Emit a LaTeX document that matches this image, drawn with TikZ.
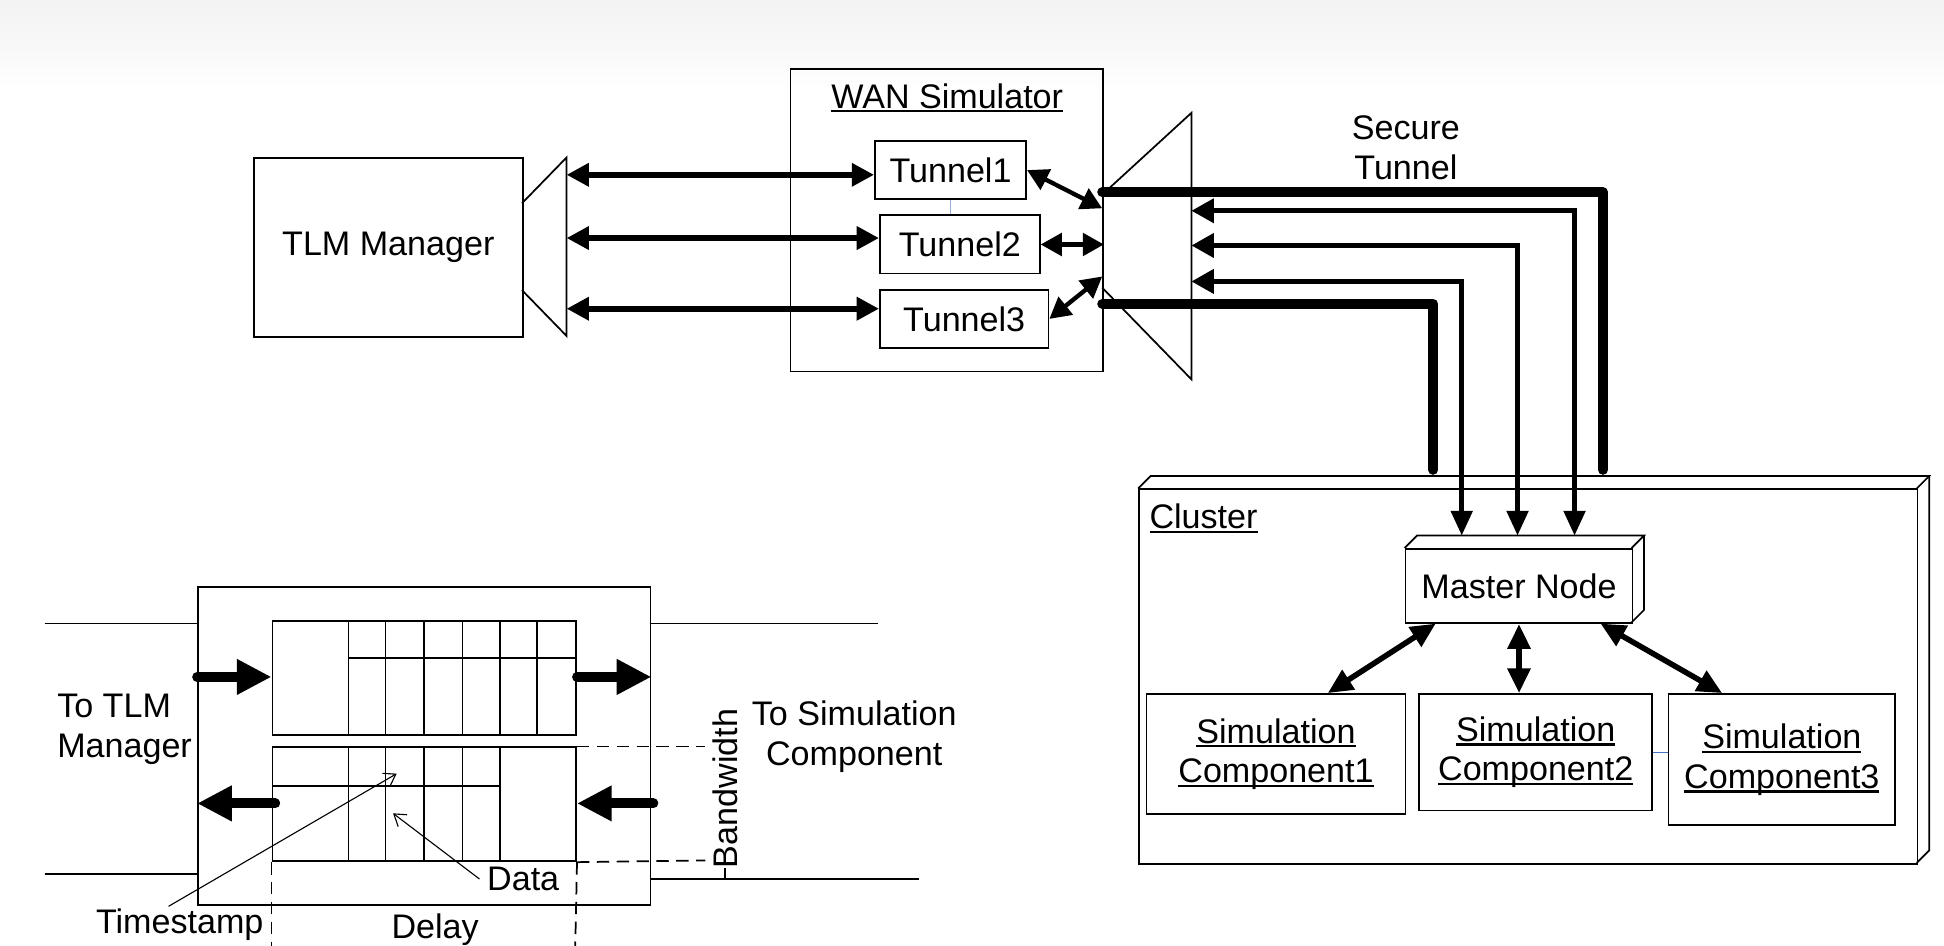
\documentclass[tikz,border=0pt]{standalone}
\usepackage{fontspec}
\setmainfont{Liberation Sans}
\usetikzlibrary{arrows.meta}
\newsavebox\myulbox
\newcommand\myul[1]{\leavevmode\sbox\myulbox{#1}\rlap{\rule[-3.5pt]{\wd\myulbox}{1.8pt}}\usebox\myulbox}
\definecolor{linkblue}{RGB}{150,175,215}
\definecolor{compblue}{RGB}{68,114,196}
\begin{document}
\begin{tikzpicture}[x=1pt,y=-1pt,
  font=\fontsize{27.5}{32}\selectfont,
  box/.style={draw, line width=1.4pt, inner sep=0pt, anchor=north west, align=center},
  txt/.style={inner sep=0pt},
  thin/.style={line width=1.4pt},
  dbl/.style={line width=4.5pt, {Triangle[length=18pt,width=18pt]}-{Triangle[length=18pt,width=18pt]}},
  sdbl/.style={line width=3.5pt, {Triangle[length=17pt,width=18pt]}-{Triangle[length=17pt,width=18pt]}},
  secure/.style={line width=8pt, line cap=round, line join=round},
  tunarrow/.style={line width=4pt, {Triangle[length=18pt,width=19pt]}-{Triangle[length=20pt,width=17pt]}},
  msarrow/.style={line width=4.5pt, {Triangle[length=20pt,width=18pt]}-{Triangle[length=20pt,width=18pt]}},
  blk/.style={line width=8pt, line cap=round, -{Triangle[length=28pt,width=27pt]}},
  ptr/.style={line width=0.9pt, -{Straight Barb[length=9pt,width=12pt]}},
  dsh/.style={line width=1.4pt, dash pattern=on 10pt off 6pt}
]
\useasboundingbox (0,0) rectangle (1568,763);
\fill[white] (0,0) rectangle (1568,763);
\shade[top color=black!5, bottom color=white] (0,0) rectangle (1568,75);

% ---------------- TLM Manager and left trapezoid
\node[box, minimum width=217pt, minimum height=144pt] (tlm) at (204,127) {TLM Manager};
\draw[thin] (421,164) -- (457,127) -- (457,271) -- (421,234);

% ---------------- WAN simulator
\node[box, minimum width=252pt, minimum height=244pt] (wan) at (637,55) {};
\node[txt] (wantitle) at (764,79) {\myul{WAN Simulator}};
\node[box, minimum width=122pt, minimum height=47pt] (tun1) at (705,113) {Tunnel1};
\node[box, minimum width=129pt, minimum height=47pt] (tun2) at (709,173) {Tunnel2};
\node[box, minimum width=136pt, minimum height=47pt] (tun3) at (709,233) {Tunnel3};
\draw[linkblue, line width=1pt] (tun1.south) -- (tun1.south |- tun2.north);

\coordinate (l1) at (457,141);
\coordinate (l2) at (457,192);
\coordinate (l3) at (457,249);
\draw[dbl] (l1) -- (l1 -| tun1.west);
\draw[dbl] (l2) -- (l2 -| tun2.west);
\draw[dbl] (l3) -- (l3 -| tun3.west);

% ---------------- right trapezoid
\draw[thin] (889,157) -- (961,91) -- (961,306) -- (889,232);
\coordinate (w1) at (889,168);
\coordinate (w3) at (889,223);
\draw[sdbl] (tun1.east) -- (w1);
\draw[sdbl] (tun2.east) -- (tun2.east -| wan.east);
\draw[sdbl] (tun3.east) -- (w3);

\node[txt, align=center] (sec) at (1134,119) {Secure\\Tunnel};

% ---------------- Cluster
\draw[thin] (918,394) -- (928,384) -- (1556,384) -- (1546,394);
\draw[thin] (1556,384) -- (1556,686) -- (1546,696);
\node[box, minimum width=628pt, minimum height=302pt] (cluster) at (918,394) {};
\node[txt, anchor=west] (clabel) at (927,418) {\myul{Cluster}};

\draw[thin] (1133,442) -- (1143,432) -- (1326,432) -- (1316,442);
\draw[thin] (1326,432) -- (1326,492) -- (1316,502);
\node[box, minimum width=183pt, minimum height=60pt] (master) at (1133,442) {Master Node};

\node[box, minimum width=209pt, minimum height=97pt] (sc1) at (924,559) {\myul{Simulation}\\\myul{Component1}};
\node[box, minimum width=188pt, minimum height=94pt] (sc2) at (1144,559) {\myul{Simulation}\\\myul{Component2}};
\node[box, minimum width=183pt, minimum height=106pt] (sc3) at (1345,559) {\myul{Simulation}\\\myul{Component3}};
\draw[compblue, line width=1pt] (sc2.east) -- (sc2.east -| sc3.west);

% secure tunnel lines
\coordinate (s1) at (889,155);
\coordinate (s1e) at (1293,379);
\coordinate (s2) at (889,245);
\coordinate (s2e) at (1156,379);
\draw[secure] (s1) -| (s1e);
\draw[secure] (s2) -| (s2e);

\coordinate (t1) at (961,170);
\coordinate (t2) at (961,198);
\coordinate (t3) at (961,227);
\coordinate (m1) at (1270,432);
\coordinate (m2) at (1224,432);
\coordinate (m3) at (1179,432);
\draw[tunarrow] (t1) -| (m1);
\draw[tunarrow] (t2) -| (m2);
\draw[tunarrow] (t3) -| (m3);

% master <-> simulation components
\coordinate (ma1) at (1158,503);
\coordinate (sa1) at (1071,559);
\coordinate (ma3) at (1291,503);
\coordinate (sa3) at (1389,559);
\draw[msarrow] (ma1) -- (sa1);
\draw[msarrow] (master.south) -- (sc2.north -| master.south);
\draw[msarrow] (ma3) -- (sa3);

% ---------------- bottom-left queue diagram
\node[box, minimum width=365pt, minimum height=256pt] (outer) at (159,473) {};
\draw[thin] (36,503) -- (159,503);
\draw[thin] (524,503) -- (708,503);
\draw[thin] (36,705) -- (159,705);
\draw[thin] (524,709) -- (741,709);

\node[box, minimum width=245pt, minimum height=92pt] (qtop) at (219,500) {};
\foreach \xx in {281,311,342,373,403,433} \draw[thin] (\xx,500) -- (\xx,592);
\draw[thin] (281,531) -- (464,531);

\node[box, minimum width=245pt, minimum height=92pt] (qbot) at (219,602) {};
\foreach \xx in {281,311,342,373,403} \draw[thin] (\xx,602) -- (\xx,694);
\draw[thin] (219,634) -- (403,634);

\coordinate (ba1) at (159,546);
\coordinate (ba2) at (222,648);
\coordinate (ba3) at (527,648);
\draw[blk] (ba1) -- (ba1 -| qtop.west);
\draw[blk] (qtop.east |- ba1) -- (outer.east |- ba1);
\draw[blk] (ba2) -- (ba2 -| outer.west);
\draw[blk] (ba3) -- (ba3 -| qbot.east);

\coordinate (bwt) at (569,602);
\coordinate (bwb) at (569,694);
\draw[dsh] (qbot.north east) -- (bwt);
\draw[dsh] (qbot.south east) -- (bwb);
\draw[dsh] (qbot.south west) -- (219,763);
\draw[dsh] (qbot.south east) -- (464,763);

\node[txt, rotate=90] (bw) at (585,636) {Bandwidth};
\draw[thin] (bw.west) -- (585,709);

\node[txt, align=left, anchor=west] (totlm) at (46,588) {To TLM\\Manager};
\node[txt, align=center] (tosim) at (689,594) {To Simulation\\Component};
\node[txt] (data) at (422,709) {Data};
\node[txt] (ts) at (145,746) {Timestamp};
\node[txt] (delay) at (351,750) {Delay};

\coordinate (tsp) at (320,624);
\coordinate (dp) at (317,656);
\draw[ptr] ([xshift=-9pt,yshift=2pt]ts.north) -- (tsp);
\draw[ptr] ([xshift=-6pt]data.west) -- (dp);
\end{tikzpicture}
\end{document}
